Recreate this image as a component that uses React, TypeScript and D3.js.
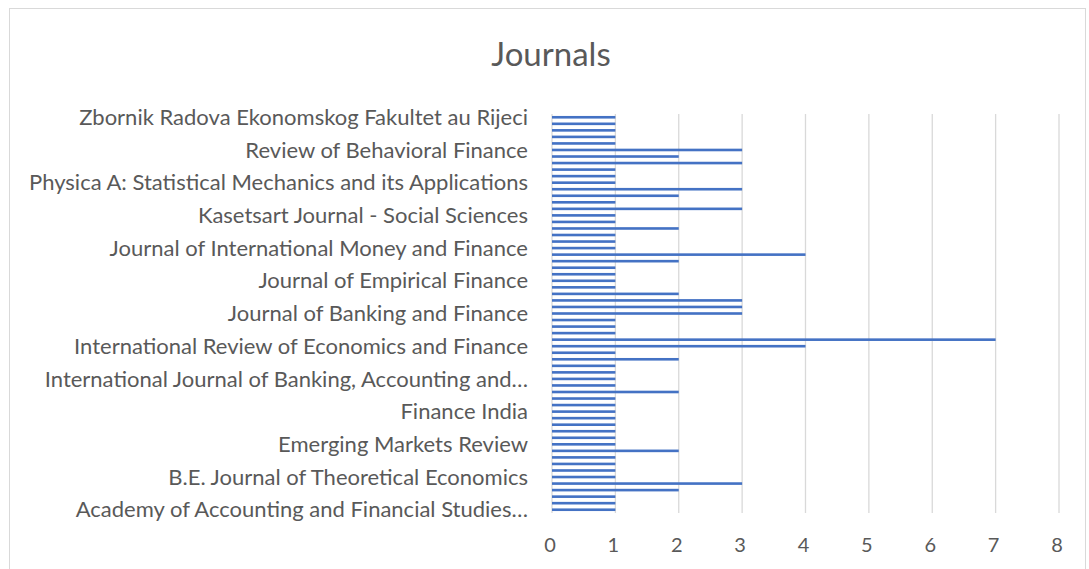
import React, { useEffect, useRef } from 'react';
import * as d3 from 'd3';

// categories bottom -> top (Excel order), only every 5th one gets a label
const journals = [
  'Academy of Accounting and Financial Studies Journal',
  'Accounting and Finance',
  'Applied Economics',
  'Applied Economics Letters',
  'Asia-Pacific Financial Markets',
  'B.E. Journal of Theoretical Economics',
  'Borsa Istanbul Review',
  'Cogent Economics and Finance',
  'Economic Modelling',
  'Economics Letters',
  'Emerging Markets Review',
  'Empirical Economics',
  'Energy Economics',
  'European Financial Management',
  'European Journal of Finance',
  'Finance India',
  'Finance Research Letters',
  'Financial Innovation',
  'Global Finance Journal',
  'International Economics',
  'International Journal of Banking, Accounting and Finance',
  'International Journal of Economics and Financial Issues',
  'International Journal of Emerging Markets',
  'International Journal of Finance and Economics',
  'International Journal of Managerial Finance',
  'International Review of Economics and Finance',
  'International Review of Financial Analysis',
  'Investment Management and Financial Innovations',
  'Journal of Applied Economics',
  'Journal of Asian Economics',
  'Journal of Banking and Finance',
  'Journal of Behavioral and Experimental Finance',
  'Journal of Behavioral Finance',
  'Journal of Corporate Finance',
  'Journal of Economic Behavior and Organization',
  'Journal of Empirical Finance',
  'Journal of Finance',
  'Journal of Financial Economics',
  'Journal of Financial Markets',
  'Journal of Futures Markets',
  'Journal of International Money and Finance',
  'Journal of Multinational Financial Management',
  'Journal of Risk and Financial Management',
  'Journal of Risk Finance',
  'Journal of Sustainable Finance and Investment',
  'Kasetsart Journal - Social Sciences',
  'Managerial Finance',
  'Mathematics',
  'North American Journal of Economics and Finance',
  'Pacific-Basin Finance Journal',
  'Physica A: Statistical Mechanics and its Applications',
  'PLoS ONE',
  'Quantitative Finance',
  'Quarterly Review of Economics and Finance',
  'Research in International Business and Finance',
  'Review of Behavioral Finance',
  'Review of Financial Economics',
  'Review of Quantitative Finance and Accounting',
  'Studies in Economics and Finance',
  'Sustainability',
  'Zbornik Radova Ekonomskog Fakultet au Rijeci',
];

const counts = [
  1, 1, 1, 2, 3, 1, 1, 1, 1, 2,
  1, 1, 1, 1, 1, 1, 1, 1, 2, 1,
  1, 1, 1, 2, 1, 4, 7, 1, 1, 1,
  3, 3, 3, 2, 1, 1, 1, 1, 2, 4,
  1, 1, 1, 2, 1, 1, 3, 1, 2, 3,
  1, 1, 1, 3, 2, 3, 1, 1, 1, 1,
  1,
];

const xTicks = [0, 1, 2, 3, 4, 5, 6, 7, 8];

const W = 1089;
const H = 569;
const FONT = 'Lato, "Open Sans", sans-serif';

export default function App() {
  const svgRef = useRef<SVGSVGElement>(null);

  useEffect(() => {
    document.body.style.margin = '0';
    if (!svgRef.current) return;
    const svg = d3.select(svgRef.current);
    svg.selectAll('*').remove();

    const margin = { top: 114, right: 30, bottom: 56, left: 552 };
    const innerH = H - margin.top - margin.bottom;

    const data = journals.map((name, i) => ({ name, value: counts[i] }));

    const x = d3.scaleLinear().domain([0, 8]).range([0, 507]);
    // bottom of the axis is the first category
    const y = d3
      .scaleBand<string>()
      .domain(journals)
      .range([innerH, 0])
      .paddingInner(0.6)
      .paddingOuter(0.3);

    // chart frame
    svg
      .append('rect')
      .attr('x', 9.5)
      .attr('y', 8.5)
      .attr('width', 1076)
      .attr('height', 600)
      .attr('fill', '#fff')
      .attr('stroke', '#d9d9d9')
      .attr('stroke-width', 1);

    svg
      .append('text')
      .attr('x', 551)
      .attr('y', 66)
      .attr('text-anchor', 'middle')
      .style('font-family', FONT)
      .style('font-size', '33px')
      .style('fill', '#595959')
      .text('Journals');

    const g = svg
      .append('g')
      .attr('transform', `translate(${margin.left},${margin.top})`);

    // vertical gridlines
    g.selectAll('line.grid')
      .data(xTicks)
      .enter()
      .append('line')
      .attr('class', 'grid')
      .attr('x1', (d) => x(d))
      .attr('x2', (d) => x(d))
      .attr('y1', 0)
      .attr('y2', innerH)
      .attr('stroke', '#d9d9d9')
      .attr('stroke-width', 1.3);

    g.selectAll('rect.bar')
      .data(data)
      .enter()
      .append('rect')
      .attr('class', 'bar')
      .attr('x', x(0))
      .attr('y', (d) => y(d.name)!)
      .attr('width', (d) => x(d.value) - x(0))
      .attr('height', y.bandwidth())
      .attr('fill', '#4472c4');

    // x tick labels
    g.selectAll('text.xtick')
      .data(xTicks)
      .enter()
      .append('text')
      .attr('class', 'xtick')
      .attr('x', (d) => x(d) - 2)
      .attr('y', innerH + 39)
      .attr('text-anchor', 'middle')
      .style('font-family', FONT)
      .style('font-size', '20px')
      .style('fill', '#595959')
      .text((d) => d);

    // category labels, every 5th, trimmed by whole words like Excel does
    const maxLabelW = 505;
    const labels = g
      .selectAll('text.ylab')
      .data(data.filter((_, i) => i % 5 === 0))
      .enter()
      .append('text')
      .attr('class', 'ylab')
      .attr('x', -24)
      .attr('y', (d) => y(d.name)! + y.bandwidth() / 2)
      .attr('dy', '0.35em')
      .attr('text-anchor', 'end')
      .style('font-family', FONT)
      .style('font-size', '22px')
      .style('fill', '#595959')
      .text((d) => d.name);

    labels.each(function (d) {
      const t = this as SVGTextElement;
      if (t.getComputedTextLength() <= maxLabelW) return;
      const words = d.name.split(' ');
      while (words.length > 1) {
        words.pop();
        t.textContent = words.join(' ') + '…';
        if (t.getComputedTextLength() <= maxLabelW) break;
      }
    });
  }, []);

  return <svg ref={svgRef} width={W} height={H} style={{ display: 'block' }} />;
}
